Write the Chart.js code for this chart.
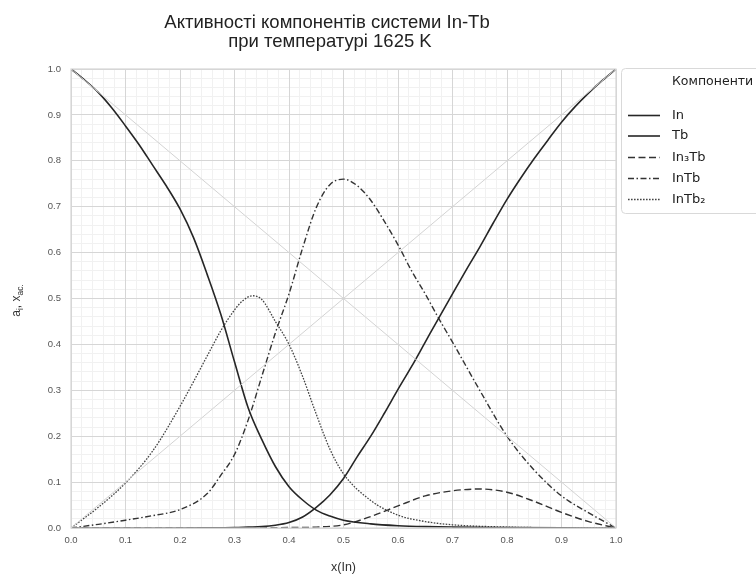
<!DOCTYPE html>
<html>
<head>
<meta charset="utf-8">
<script src="https://cdn.jsdelivr.net/npm/chart.js@4.4.1/dist/chart.umd.min.js"></script>
<style>
  html, body { margin: 0; padding: 0; background: #fff; }
  #wrap { width: 756px; height: 578px; }
</style>
</head>
<body>
<div id="wrap"><canvas id="chart" width="756" height="578"></canvas></div>
<script>
// Activities in the In-Tb system at 1625 K

const titleLines = ['Активності компонентів системи In-Tb', 'при температурі 1625 K']
const legendTitle = 'Компоненти'
const xTickLabels = ['0.0', '0.1', '0.2', '0.3', '0.4', '0.5', '0.6', '0.7', '0.8', '0.9', '1.0']
const yTickLabels = ['0.0', '0.1', '0.2', '0.3', '0.4', '0.5', '0.6', '0.7', '0.8', '0.9', '1.0']

// Ideal (Raoult) reference lines
const diagX = [0, 1]
const diagUp = [0, 1]
const diagDown = [1, 0]

// a(In), increasing with x(In)
const xIn = [0, 0.1, 0.2, 0.25, 0.275, 0.3, 0.325, 0.35, 0.375, 0.4, 0.425, 0.45, 0.475, 0.5, 0.525, 0.55, 0.575, 0.6, 0.625, 0.65, 0.675, 0.7, 0.725, 0.75, 0.775, 0.8, 0.825, 0.85, 0.875, 0.9, 0.925, 0.95, 0.975, 1]
const yIn = [0, 0, 0.0001, 0.0003, 0.0006, 0.001, 0.002, 0.003, 0.006, 0.012, 0.024, 0.045, 0.072, 0.108, 0.155, 0.2, 0.25, 0.302, 0.352, 0.405, 0.458, 0.51, 0.562, 0.612, 0.665, 0.716, 0.762, 0.805, 0.845, 0.884, 0.918, 0.948, 0.975, 1]

// a(Tb), decreasing with x(In)
const xTb = [0, 0.025, 0.05, 0.075, 0.1, 0.125, 0.15, 0.175, 0.2, 0.225, 0.25, 0.275, 0.3, 0.325, 0.35, 0.375, 0.4, 0.425, 0.45, 0.475, 0.5, 0.55, 0.6, 0.65, 0.7, 0.8, 0.9, 1]
const yTb = [1, 0.976, 0.949, 0.915, 0.876, 0.835, 0.79, 0.745, 0.695, 0.632, 0.552, 0.465, 0.362, 0.262, 0.193, 0.134, 0.09, 0.061, 0.039, 0.026, 0.017, 0.009, 0.005, 0.003, 0.002, 0.001, 0.0003, 0]

// a(In3Tb)
const xIn3Tb = [0, 0.3, 0.35, 0.4, 0.45, 0.5, 0.55, 0.6, 0.65, 0.7, 0.75, 0.8, 0.85, 0.9, 0.95, 1]
const yIn3Tb = [0, 0, 0.0003, 0.001, 0.002, 0.007, 0.025, 0.048, 0.07, 0.081, 0.085, 0.078, 0.058, 0.034, 0.014, 0]

// a(InTb)
const xInTb = [0, 0.05, 0.1, 0.15, 0.2, 0.25, 0.275, 0.3, 0.325, 0.35, 0.375, 0.4, 0.425, 0.45, 0.475, 0.5, 0.525, 0.55, 0.575, 0.6, 0.625, 0.65, 0.675, 0.7, 0.75, 0.8, 0.85, 0.9, 0.95, 1]
const yInTb = [0, 0.008, 0.017, 0.027, 0.04, 0.075, 0.115, 0.16, 0.235, 0.33, 0.425, 0.51, 0.61, 0.698, 0.748, 0.76, 0.746, 0.714, 0.668, 0.617, 0.56, 0.51, 0.456, 0.405, 0.3, 0.2, 0.126, 0.07, 0.033, 0]

// a(InTb2)
const xInTb2 = [0, 0.05, 0.1, 0.15, 0.2, 0.25, 0.275, 0.3, 0.315, 0.333, 0.35, 0.375, 0.4, 0.425, 0.45, 0.475, 0.5, 0.55, 0.6, 0.65, 0.7, 0.8, 0.9, 1]
const yInTb2 = [0, 0.045, 0.098, 0.168, 0.265, 0.375, 0.43, 0.475, 0.495, 0.506, 0.498, 0.45, 0.4, 0.33, 0.248, 0.172, 0.118, 0.06, 0.028, 0.014, 0.007, 0.002, 0.0005, 0]

const legendLabels = ['In', 'Tb', 'In₃Tb', 'InTb', 'InTb₂']

function points(xs, ys) {
  return xs.map((x, i) => ({ x: x, y: ys[i] }))
}

const curveStyle = {
  pointRadius: 0,
  fill: false,
  cubicInterpolationMode: 'monotone',
  borderCapStyle: 'butt',
}

const datasets = [
  { label: 'ideal1', data: points(diagX, diagUp), borderColor: '#d3d3d3', borderWidth: 1, pointRadius: 0, legend: false },
  { label: 'ideal2', data: points(diagX, diagDown), borderColor: '#d3d3d3', borderWidth: 1, pointRadius: 0, legend: false },
  Object.assign({ label: legendLabels[0], data: points(xIn, yIn), borderColor: '#262626', borderWidth: 1.6, borderDash: [] }, curveStyle),
  Object.assign({ label: legendLabels[1], data: points(xTb, yTb), borderColor: '#262626', borderWidth: 1.6, borderDash: [] }, curveStyle),
  Object.assign({ label: legendLabels[2], data: points(xIn3Tb, yIn3Tb), borderColor: '#333333', borderWidth: 1.4, borderDash: [7, 3.5] }, curveStyle),
  Object.assign({ label: legendLabels[3], data: points(xInTb, yInTb), borderColor: '#333333', borderWidth: 1.4, borderDash: [6, 2.5, 1.5, 2.5] }, curveStyle),
  Object.assign({ label: legendLabels[4], data: points(xInTb2, yInTb2), borderColor: '#444444', borderWidth: 1.3, borderDash: [1.6, 1.4] }, curveStyle),
]

const GRID_MAJOR = '#d6d6d6'
const GRID_MINOR = '#f1f1f1'
const TICK_COLOR = '#555555'
const TICK_FONT = { family: '"Liberation Sans", Arial, sans-serif', size: 9.5 }

// Draws titles, axis titles, plot frame and the legend box
const decorPlugin = {
  id: 'decor',
  afterDraw(chart) {
    const ctx = chart.ctx
    const area = chart.chartArea
    ctx.save()

    // frame round the plot
    ctx.strokeStyle = GRID_MAJOR
    ctx.lineWidth = 1.2
    ctx.strokeRect(area.left, area.top, area.right - area.left, area.bottom - area.top)

    // title
    ctx.fillStyle = '#222'
    ctx.font = '18.5px "Liberation Sans", Arial, sans-serif'
    ctx.textAlign = 'center'
    ctx.textBaseline = 'middle'
    ctx.fillText(titleLines[0], 327, 23)
    ctx.fillText(titleLines[1], 330, 42)

    // x axis title
    ctx.fillStyle = '#333'
    ctx.font = '12.5px "Liberation Sans", Arial, sans-serif'
    ctx.fillText('x(In)', (area.left + area.right) / 2, 568)

    // y axis title with subscripts
    ctx.save()
    ctx.translate(20, (area.top + area.bottom) / 2 + 2)
    ctx.rotate(-Math.PI / 2)
    ctx.textAlign = 'left'
    ctx.textBaseline = 'alphabetic'
    const parts = [
      { t: 'a', sub: false },
      { t: 'i', sub: true },
      { t: ', x', sub: false },
      { t: 'ac.', sub: true },
    ]
    const big = '12px "Liberation Sans", Arial, sans-serif'
    const small = '8.5px "Liberation Sans", Arial, sans-serif'
    let total = 0
    parts.forEach((p) => {
      ctx.font = p.sub ? small : big
      total += ctx.measureText(p.t).width
    })
    let px = -total / 2
    parts.forEach((p) => {
      ctx.font = p.sub ? small : big
      ctx.fillText(p.t, px, p.sub ? 3 : 0)
      px += ctx.measureText(p.t).width
    })
    ctx.restore()

    // legend box
    const bx = 621.5
    const by = 68.5
    ctx.fillStyle = '#ffffff'
    ctx.strokeStyle = '#d9d9d9'
    ctx.lineWidth = 1
    ctx.beginPath()
    ctx.roundRect(bx, by, 160, 145, 4)
    ctx.fill()
    ctx.stroke()

    ctx.fillStyle = '#222'
    ctx.font = '12.5px "DejaVu Sans", sans-serif'
    ctx.textAlign = 'left'
    ctx.textBaseline = 'middle'
    ctx.fillText(legendTitle, 672, 82)

    const rows = [115.5, 136, 157.5, 178.5, 199.5]
    chart.data.datasets.filter((d) => d.legend !== false).forEach((d, i) => {
      const y = rows[i]
      ctx.strokeStyle = d.borderColor
      ctx.lineWidth = d.borderWidth
      ctx.setLineDash(d.borderDash || [])
      ctx.beginPath()
      ctx.moveTo(628, y)
      ctx.lineTo(660, y)
      ctx.stroke()
      ctx.setLineDash([])
      ctx.fillStyle = '#222'
      ctx.font = '13px "DejaVu Sans", sans-serif'
      ctx.fillText(d.label, 672, y)
    })

    ctx.restore()
  },
}

new Chart(document.getElementById('chart'), {
  type: 'line',
  data: { datasets: datasets },
  options: {
    responsive: false,
    devicePixelRatio: 1,
    animation: false,
    layout: { padding: { top: 69, right: 140, left: 0, bottom: 0 } },
    plugins: {
      legend: { display: false },
      tooltip: { enabled: false },
      title: { display: false },
    },
    scales: {
      xMinor: {
        type: 'linear',
        position: 'bottom',
        min: 0,
        max: 1,
        z: -1,
        ticks: { display: false, stepSize: 0.02 },
        grid: { color: GRID_MINOR, lineWidth: 1, drawTicks: false },
        border: { display: false },
        afterFit: (scale) => { scale.height = 0 },
      },
      yMinor: {
        type: 'linear',
        position: 'left',
        min: 0,
        max: 1,
        z: -1,
        ticks: { display: false, stepSize: 0.02 },
        grid: { color: GRID_MINOR, lineWidth: 1, drawTicks: false },
        border: { display: false },
        afterFit: (scale) => { scale.width = 0 },
      },
      x: {
        type: 'linear',
        position: 'bottom',
        min: 0,
        max: 1,
        ticks: {
          stepSize: 0.1,
          color: TICK_COLOR,
          font: TICK_FONT,
          padding: 7,
          maxRotation: 0,
          callback: (v, i) => xTickLabels[i],
        },
        grid: { color: GRID_MAJOR, lineWidth: 1, drawTicks: false },
        border: { display: false },
        afterFit: (scale) => { scale.height = 50 },
      },
      y: {
        type: 'linear',
        position: 'left',
        min: 0,
        max: 1,
        ticks: {
          stepSize: 0.1,
          color: TICK_COLOR,
          font: TICK_FONT,
          padding: 10,
          callback: (v, i) => yTickLabels[i],
        },
        grid: { color: GRID_MAJOR, lineWidth: 1, drawTicks: false },
        border: { display: false },
        afterFit: (scale) => { scale.width = 71 },
      },
    },
  },
  plugins: [decorPlugin],
})
</script>
</body>
</html>
